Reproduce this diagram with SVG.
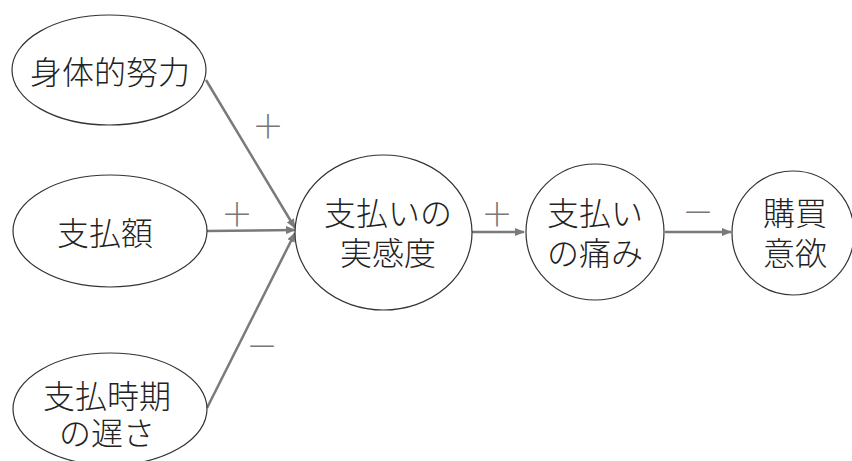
<svg xmlns="http://www.w3.org/2000/svg" width="852" height="461" viewBox="0 0 852 461">
<defs>
<marker id="ah" markerWidth="10" markerHeight="8" refX="9" refY="4" orient="auto" markerUnits="userSpaceOnUse">
<path d="M0,0 L10,4 L0,8 Z" fill="#7a7a7a"/>
</marker>
<style>
.n{fill:#fff;stroke:#333;stroke-width:1.2}
.t{font-family:"Noto Sans CJK JP","Noto Sans",sans-serif;font-size:32px;font-weight:300;fill:#222;text-anchor:middle}
.c{stroke:#7a7a7a;stroke-width:2.5;fill:none;marker-end:url(#ah)}
.s{font-family:"Noto Sans CJK JP","Noto Sans",sans-serif;font-size:32px;font-weight:300;fill:#777;text-anchor:middle;dominant-baseline:central}
</style>
</defs>
<rect width="852" height="461" fill="#fff"/>
<g id="connectors">
<line class="c" x1="206" y1="80" x2="295" y2="228"/>
<line class="c" x1="207" y1="231" x2="295" y2="230"/>
<line class="c" x1="207" y1="408" x2="295" y2="233"/>
<line class="c" x1="472" y1="232" x2="524" y2="232"/>
<line class="c" x1="665" y1="232" x2="731" y2="232"/>
<text class="s" x="268" y="124">＋</text>
<text class="s" x="237" y="212">＋</text>
<text class="s" x="262" y="344">－</text>
<text class="s" x="497" y="212">＋</text>
<text class="s" x="698" y="210">－</text>
</g>
<g id="n1">
<ellipse class="n" cx="109" cy="70" rx="97" ry="55"/>
<text class="t" x="110" y="84">身体的努力</text>
</g>
<g id="n2">
<ellipse class="n" cx="110" cy="231" rx="97" ry="56"/>
<text class="t" x="105" y="245">支払額</text>
</g>
<g id="n3">
<ellipse class="n" cx="110" cy="409" rx="97" ry="56"/>
<text class="t" x="107" y="408">支払時期<tspan x="107" dy="37">の遅さ</tspan></text>
</g>
<g id="n4">
<ellipse class="n" cx="383.5" cy="232.5" rx="88.5" ry="77.5"/>
<text class="t" x="388" y="225">支払いの<tspan x="388" dy="40">実感度</tspan></text>
</g>
<g id="n5">
<ellipse class="n" cx="595" cy="232" rx="69" ry="68"/>
<text class="t" x="595" y="225">支払い<tspan x="595" dy="40">の痛み</tspan></text>
</g>
<g id="n6">
<ellipse class="n" cx="793" cy="233" rx="61" ry="62"/>
<text class="t" x="795" y="225">購買<tspan x="795" dy="40">意欲</tspan></text>
</g>
</svg>
